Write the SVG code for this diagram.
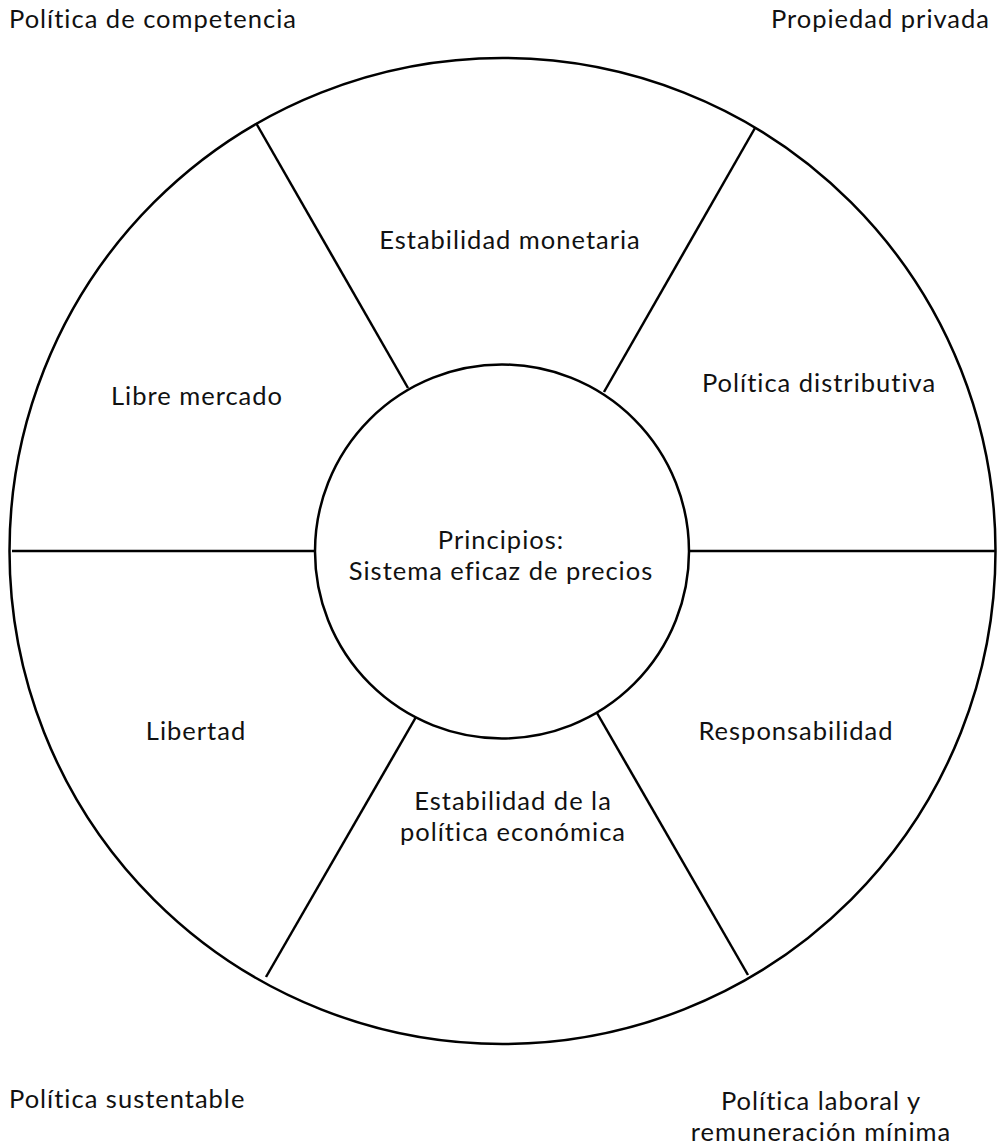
<svg xmlns="http://www.w3.org/2000/svg" width="998" height="1147" viewBox="0 0 998 1147">
<style>
text{font-family:Lato,"Open Sans",sans-serif;font-size:25.5px;letter-spacing:1px;fill:#111}
.c{text-anchor:middle}
.ln{stroke:#000;stroke-width:2.5;fill:none}
</style>
<rect width="998" height="1147" fill="#fff"/>
<g id="outer"><circle class="ln" cx="502.5" cy="551" r="493"/></g>
<g id="connectors">
<line class="ln" x1="12" y1="551" x2="315" y2="551"/>
<line class="ln" x1="689" y1="551" x2="995" y2="551"/>
<line class="ln" x1="408" y1="388" x2="256" y2="123"/>
<line class="ln" x1="604" y1="392" x2="755" y2="128"/>
<line class="ln" x1="416" y1="717" x2="266" y2="977"/>
<line class="ln" x1="597" y1="713" x2="748" y2="975"/>
</g>
<g id="center"><circle class="ln" cx="502" cy="551.5" r="187"/>
<text class="c" x="501" y="549">Principios:</text>
<text class="c" x="501" y="580">Sistema eficaz de precios</text></g>
<g id="s-top"><text class="c" x="510" y="249">Estabilidad monetaria</text></g>
<g id="s-ul"><text class="c" x="197" y="405">Libre mercado</text></g>
<g id="s-ur"><text class="c" x="819" y="392">Política distributiva</text></g>
<g id="s-ll"><text class="c" x="196" y="740">Libertad</text></g>
<g id="s-lr"><text class="c" x="796" y="740">Responsabilidad</text></g>
<g id="s-bot"><text class="c" x="513" y="810">Estabilidad de la</text><text class="c" x="513" y="841">política económica</text></g>
<g id="c-tl"><text x="9" y="28">Política de competencia</text></g>
<g id="c-tr"><text x="990" y="28" text-anchor="end">Propiedad privada</text></g>
<g id="c-bl"><text x="9" y="1108">Política sustentable</text></g>
<g id="c-br"><text class="c" x="821" y="1110">Política laboral y</text><text class="c" x="821" y="1141">remuneración mínima</text></g>
</svg>
